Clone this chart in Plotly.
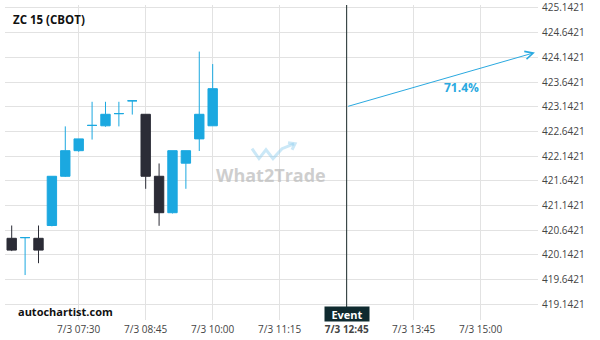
import plotly.graph_objects as go

# ---- data ----
idx = list(range(16))
opens  = [420.478, 420.492, 420.478, 420.737, 421.734, 422.252, 422.764, 422.756,
          423.003, 423.262, 422.989, 421.734, 420.996, 421.999, 422.491, 422.756]
highs  = [420.737, 420.492, 420.737, 421.734, 422.744, 422.491, 423.242, 423.242,
          423.242, 423.262, 422.989, 421.993, 422.252, 422.252, 424.259, 424.006]
lows   = [420.219, 419.734, 419.974, 420.720, 421.720, 422.230, 422.477, 422.736,
          422.744, 422.983, 421.480, 420.731, 420.980, 421.480, 422.246, 422.756]
closes = [420.239, 420.492, 420.239, 421.734, 422.252, 422.491, 422.764, 422.989,
          423.003, 423.262, 421.734, 420.996, 422.252, 422.252, 422.989, 423.508]

tick_pos = [5, 10, 15, 20, 25, 30, 35]
tick_txt = ["7/3 07:30", "7/3 08:45", "7/3 10:00", "7/3 11:15", "<b>7/3 12:45</b>",
            "7/3 13:45", "7/3 15:00"]
y_ticks = [419.1421 + 0.5 * k for k in range(13)]
y_tick_txt = [f"{v:.4f}" for v in y_ticks]

event_x = 25
arrow_start = (25, 423.142)
arrow_end = (39.05, 424.239)
prob_label = "71.4%"
prob_pos = (33.6, 423.528)

BLUE = "#1ba8e0"
DARK = "#2b2c36"

# pixel helpers for layout (plot area 5..538 x, 0..320 y)
L, R, T, B = 5, 62, 0, 20
PW, PH = 600 - L - R, 340 - T - B
def px(x):
    return (x - L) / PW
def py(y):
    return (PH + T - y) / PH

fig = go.Figure()
fig.add_trace(go.Candlestick(
    x=idx, open=opens, high=highs, low=lows, close=closes,
    increasing=dict(line=dict(color=BLUE, width=1), fillcolor=BLUE),
    decreasing=dict(line=dict(color=DARK, width=1), fillcolor=DARK),
    whiskerwidth=0, hoverinfo="skip", showlegend=False,
))

GRID = "#e2e2e2"
fig.update_layout(
    width=600, height=340,
    margin=dict(l=L, r=R, t=T, b=B),
    paper_bgcolor="white", plot_bgcolor="white",
    font=dict(family="Open Sans", size=10, color="#444"),
    showlegend=False,
    boxgap=0.3, boxgroupgap=0,
    xaxis=dict(
        range=[-0.5, 39.28], rangeslider=dict(visible=False),
        tickmode="array", tickvals=tick_pos, ticktext=tick_txt,
        showgrid=True, gridcolor=GRID, gridwidth=1,
        zeroline=False, showline=False, ticks="",
        ticklabelstandoff=2, tickfont=dict(size=10, color="#444"),
    ),
    yaxis=dict(
        range=[418.8236, 425.2019], side="right",
        tickmode="array", tickvals=y_ticks, ticktext=y_tick_txt,
        showgrid=True, gridcolor=GRID, gridwidth=1,
        zeroline=False, showline=False, ticks="",
        ticklabelstandoff=3, ticklabeloverflow="allow",
        tickfont=dict(size=10, color="#444"),
    ),
)

# event line
fig.add_shape(type="line", xref="x", yref="paper", x0=event_x, x1=event_x,
              y0=py(307), y1=1, line=dict(color="#1c2b2b", width=1))

# watermark logo
logo = (f"M {px(252)},{py(146)} L {px(259)},{py(156)} L {px(266)},{py(147)} "
        f"L {px(273)},{py(156)} L {px(282)},{py(146)} L {px(294)},{py(141)}")
fig.add_shape(type="path", xref="paper", yref="paper", path=logo,
              line=dict(color="rgba(140,205,238,0.45)", width=3))
fig.add_shape(type="path", xref="paper", yref="paper",
              path=f"M {px(288)},{py(140)} L {px(295)},{py(141)} L {px(292)},{py(147)}",
              line=dict(color="rgba(140,205,238,0.45)", width=3))
fig.add_annotation(xref="paper", yref="paper", x=px(271), y=py(173),
                   xanchor="center", yanchor="middle",
                   text="<b>What2Trade</b>", showarrow=False,
                   font=dict(size=18, color="rgba(190,190,190,0.75)", family="Open Sans"))

# forecast arrow
fig.add_annotation(xref="x", yref="y", axref="x", ayref="y",
                   x=arrow_end[0], y=arrow_end[1], ax=arrow_start[0], ay=arrow_start[1],
                   showarrow=True, arrowhead=5, arrowsize=1.6, arrowwidth=1,
                   arrowcolor="#2aa9e0", text="")
fig.add_annotation(xref="x", yref="y", x=prob_pos[0], y=prob_pos[1],
                   xanchor="center", yanchor="middle",
                   text=f"<b>{prob_label}</b>", showarrow=False,
                   font=dict(size=12, color="#2aa9e0"))

# title & branding
fig.add_annotation(xref="paper", yref="paper", x=px(11), y=py(15),
                   xanchor="left", yanchor="middle",
                   text="<b>ZC 15 (CBOT)</b>", showarrow=False,
                   font=dict(size=11.5, color="#111"))
fig.add_annotation(xref="paper", yref="paper", x=px(16), y=py(311),
                   xanchor="left", yanchor="middle",
                   text="<b>autochartist.com</b>", showarrow=False,
                   font=dict(size=11, color="#111"))

# event label
fig.add_annotation(xref="x", yref="paper", x=event_x, y=py(313.5),
                   xanchor="center", yanchor="middle",
                   text="<b>Event</b>", showarrow=False, bgcolor="#0f2a2f",
                   width=40, height=10, borderpad=2,
                   font=dict(size=11, color="white"))

fig.write_html("out.html")
